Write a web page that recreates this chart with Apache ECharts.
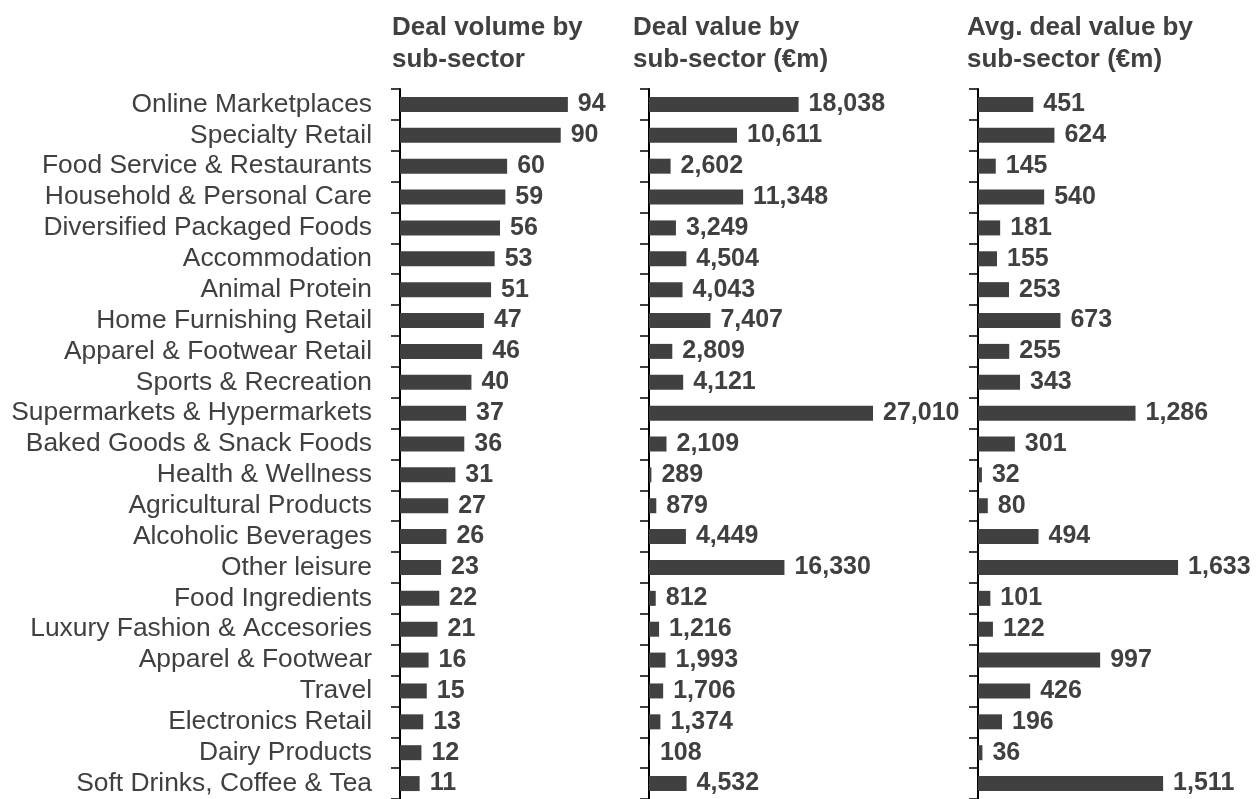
<!DOCTYPE html>
<html>
<head>
<meta charset="utf-8">
<script src="https://cdn.jsdelivr.net/npm/echarts@6/dist/echarts.min.js"></script>
<style>
  html, body { margin: 0; padding: 0; background: #fff; }
  #main { width: 1257px; height: 799px; }
</style>
</head>
<body>
<div id="main"></div>
<script>
// sub-sectors, top to bottom
var categories = [
  'Online Marketplaces', 'Specialty Retail', 'Food Service & Restaurants',
  'Household & Personal Care', 'Diversified Packaged Foods', 'Accommodation',
  'Animal Protein', 'Home Furnishing Retail', 'Apparel & Footwear Retail',
  'Sports & Recreation', 'Supermarkets & Hypermarkets', 'Baked Goods & Snack Foods',
  'Health & Wellness', 'Agricultural Products', 'Alcoholic Beverages',
  'Other leisure', 'Food Ingredients', 'Luxury Fashion & Accesories',
  'Apparel & Footwear', 'Travel', 'Electronics Retail', 'Dairy Products',
  'Soft Drinks, Coffee & Tea'
];
var dealVolume = [94, 90, 60, 59, 56, 53, 51, 47, 46, 40, 37, 36, 31, 27, 26, 23, 22, 21, 16, 15, 13, 12, 11];
var dealValue = [18038, 10611, 2602, 11348, 3249, 4504, 4043, 7407, 2809, 4121, 27010, 2109, 289, 879, 4449, 16330, 812, 1216, 1993, 1706, 1374, 108, 4532];
var avgValue = [451, 624, 145, 540, 181, 155, 253, 673, 255, 343, 1286, 301, 32, 80, 494, 1633, 101, 122, 997, 426, 196, 36, 1511];
var titles = ['Deal volume by\nsub-sector', 'Deal value by\nsub-sector (€m)', 'Avg. deal value by\nsub-sector (€m)'];

var dark = '#404040';
var font = 'Liberation Sans, Arial, sans-serif';

var grids = [
  { left: 400, top: 89, width: 200, height: 714 },
  { left: 649, top: 89, width: 282, height: 714 },
  { left: 978, top: 89, width: 245, height: 714 }
];
var maxes = [112, 34000, 2000];
var titleLeft = [387, 628, 962];
var seriesData = [dealVolume, dealValue, avgValue];

var myChart = echarts.init(document.getElementById('main'));
var option = {
  animation: false,
  title: titles.map(function (t, i) {
    return {
      text: t, left: titleLeft[i], top: 7,
      textStyle: { fontFamily: font, fontSize: 26, fontWeight: 'bold', color: dark, lineHeight: 32 }
    };
  }),
  grid: grids,
  xAxis: grids.map(function (g, i) {
    return { type: 'value', gridIndex: i, min: 0, max: maxes[i], show: false };
  }),
  yAxis: grids.map(function (g, i) {
    return {
      type: 'category', gridIndex: i, inverse: true, data: categories,
      axisLine: { show: true, lineStyle: { color: '#000', width: 2 } },
      axisTick: { show: true, length: 9, interval: 0, lineStyle: { color: '#000', width: 1.5 } },
      axisLabel: {
        show: i === 0, interval: 0, margin: 28, fontFamily: font, fontSize: 26.4, color: dark
      },
      splitLine: { show: false }
    };
  }),
  series: seriesData.map(function (d, i) {
    return {
      type: 'bar', xAxisIndex: i, yAxisIndex: i, data: d, barWidth: 15,
      itemStyle: { color: dark },
      label: {
        show: true, position: 'right', distance: 10,
        fontFamily: font, fontSize: 25, fontWeight: 'bold', color: dark,
        formatter: function (p) { return p.value.toLocaleString('en-US'); }
      }
    };
  })
};
myChart.setOption(option);
</script>
</body>
</html>
